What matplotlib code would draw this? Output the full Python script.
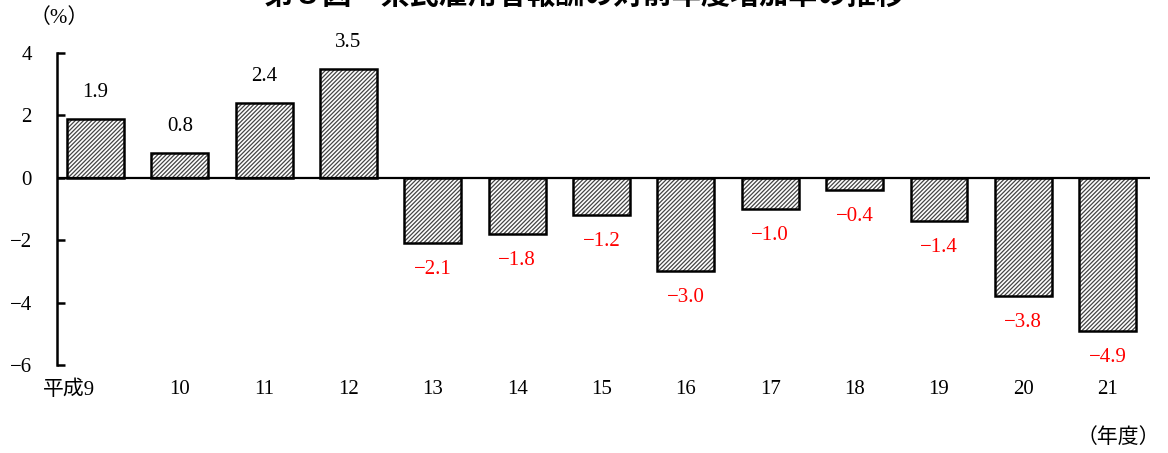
import numpy as np
import matplotlib.pyplot as plt
import matplotlib.transforms as mtransforms

plt.rcParams['font.family'] = ['Liberation Serif', 'Noto Sans CJK JP']
plt.rcParams['hatch.linewidth'] = 0.9
plt.rcParams['axes.unicode_minus'] = True

# fiscal years (Heisei) and year-on-year growth rate (%)
years = ['平成9', '10', '11', '12', '13', '14', '15', '16', '17', '18', '19', '20', '21']
rates = [1.9, 0.8, 2.4, 3.5, -2.1, -1.8, -1.2, -3.0, -1.0, -0.4, -1.4, -3.8, -4.9]

title = '第８図　県民雇用者報酬の対前年度増加率の推移'

fig = plt.figure(figsize=(11.68, 4.53), dpi=100)
ax = fig.add_axes([0.0488, 0.1943, 0.9357, 0.6887])

x = np.arange(len(years))
# hatch fill in dark grey, then a black outline on top
ax.bar(x, rates, width=0.675, color='white', edgecolor='#444444',
       linewidth=0, hatch='////////', zorder=2)
ax.bar(x, rates, width=0.675, color='none', edgecolor='black',
       linewidth=1.8, zorder=3)
ax.axhline(0, color='black', linewidth=1.6, zorder=4)

# value labels: black above positive bars, red below negative bars
for xi, v in zip(x, rates):
    txt = f'{v:.1f}'.replace('-', '\u2212')
    if v >= 0:
        ax.annotate(txt, (xi, v), xytext=(0, 19), textcoords='offset points',
                    ha='center', va='center', fontsize=15, color='black')
    else:
        ax.annotate(txt, (xi, v), xytext=(0, -19), textcoords='offset points',
                    ha='center', va='center', fontsize=15, color='red')

ax.set_xlim(-0.456, 12.5)
ax.set_ylim(-6, 4)
ax.set_yticks([-6, -4, -2, 0, 2, 4])
ax.set_xticks(x)
ax.set_xticklabels(years, fontsize=15)

# first label sits a bit to the left like the original
lbl0 = ax.get_xticklabels()[0]
lbl0.set_ha('right')
lbl0.set_transform(lbl0.get_transform() + mtransforms.ScaledTranslation(6 / 100, 0, fig.dpi_scale_trans))

for s in ['top', 'right', 'bottom']:
    ax.spines[s].set_visible(False)
ax.spines['left'].set_linewidth(1.8)
ax.tick_params(axis='y', direction='in', length=6, width=1.8, pad=18, labelsize=15)
ax.tick_params(axis='x', length=0, pad=11)

fig.text(0.051, 0.96, '（%）', ha='center', va='center', fontsize=15)
fig.text(0.993, 0.033, '（年度）', ha='right', va='center', fontsize=15)
fig.text(0.5, 1 + 4 / 453, title, ha='center', va='center', fontsize=21,
         fontweight='bold')

fig.savefig('out.png', dpi=100)
